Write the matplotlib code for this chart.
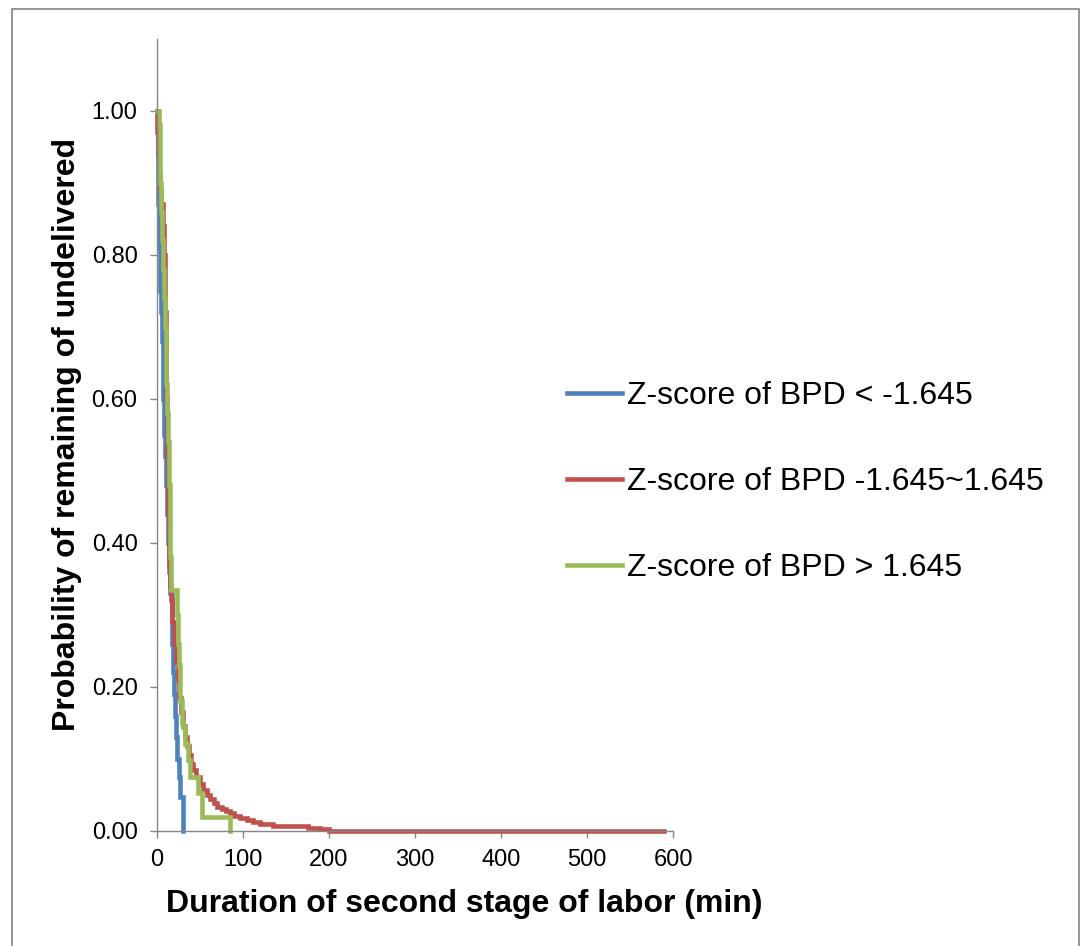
import matplotlib.pyplot as plt
from matplotlib.patches import Rectangle

plt.rcParams['font.family'] = ['Liberation Sans', 'DejaVu Sans']

# Kaplan-Meier step points (minutes, probability undelivered)
t_low = [0, 1, 1.5, 2, 2.7, 3.5, 4.5, 5.5, 6.5, 7.5, 8.5, 9.5, 10.5, 11.5, 12.5,
         14, 15, 17, 18, 19, 20, 21, 22, 23.5, 25, 27, 30.5]
s_low = [1.00, 0.92, 0.87, 0.84, 0.81, 0.75, 0.72, 0.68, 0.64, 0.60, 0.55, 0.52,
         0.48, 0.44, 0.40, 0.36, 0.33, 0.30, 0.26, 0.22, 0.19, 0.16, 0.13, 0.10,
         0.075, 0.047, 0.0]

t_mid = [0, 0.5, 1, 2, 3, 5, 7, 8, 9, 9.5, 10, 10.5, 11, 11.5, 12, 12.5, 13, 13.5,
         14, 15, 16, 18, 20, 22, 24, 26, 28, 30, 32, 34.5, 37, 40, 42, 45, 50, 54,
         58, 62, 66, 70, 75, 80, 85, 90, 97, 105, 112, 120, 135, 155, 175, 190,
         200, 590]
s_mid = [1.00, 0.97, 0.94, 0.91, 0.89, 0.87, 0.84, 0.80, 0.76, 0.72, 0.68, 0.64,
         0.60, 0.56, 0.52, 0.48, 0.44, 0.40, 0.37, 0.34, 0.32, 0.29, 0.26, 0.235,
         0.21, 0.185, 0.165, 0.145, 0.13, 0.117, 0.105, 0.092, 0.084, 0.075, 0.065,
         0.057, 0.050, 0.044, 0.038, 0.033, 0.030, 0.027, 0.024, 0.021, 0.018,
         0.015, 0.012, 0.009, 0.007, 0.006, 0.004, 0.002, 0.0, 0.0]

t_high = [0, 2, 3, 4, 5, 6, 7, 8, 9, 10, 11, 12, 13, 14, 15, 15.5, 16, 23, 24, 25,
          26.5, 27, 28.5, 30.6, 33, 36, 38, 48, 52, 85]
s_high = [1.00, 0.98, 0.95, 0.90, 0.86, 0.82, 0.78, 0.74, 0.70, 0.66, 0.62, 0.58,
          0.54, 0.48, 0.42, 0.38, 0.334, 0.30, 0.26, 0.23, 0.20, 0.18, 0.15, 0.144,
          0.12, 0.098, 0.075, 0.052, 0.019, 0.0]

labels = ['Z-score of BPD < -1.645', 'Z-score of BPD -1.645~1.645',
          'Z-score of BPD > 1.645']
colors = ['#4F81BD', '#C0504D', '#9BBB59']

fig = plt.figure(figsize=(10.83, 9.46), dpi=100)
ax = fig.add_axes([157 / 1083, 1 - 830.7 / 946, 516 / 1083, 792 / 946])

for t, s, lab, c in zip([t_low, t_mid, t_high], [s_low, s_mid, s_high], labels, colors):
    ax.plot(t, s, drawstyle='steps-post', color=c, lw=3.3, label=lab,
            solid_joinstyle='miter', clip_on=False)

ax.set_xlim(0, 600)
ax.set_ylim(0, 1.1)
ax.set_xticks(range(0, 601, 100))
ax.set_yticks([0, 0.2, 0.4, 0.6, 0.8, 1.0])
ax.set_yticklabels([f'{v:.2f}' for v in ax.get_yticks()])

grey = '#868686'
for side in ['top', 'right']:
    ax.spines[side].set_visible(False)
for side in ['left', 'bottom']:
    ax.spines[side].set_color(grey)
    ax.spines[side].set_linewidth(1.0)
ax.tick_params(direction='out', length=5, width=1.0, color=grey,
               labelsize=17, labelcolor='black')
ax.tick_params(axis='y', pad=9)
ax.tick_params(axis='x', pad=8)

ax.set_xlabel('Duration of second stage of labor (min)', fontsize=23, fontweight='bold')
ax.xaxis.label.set_va('baseline')
ax.xaxis.set_label_coords(0.595, -0.1027)
ax.set_ylabel('Probability of remaining of undelivered', fontsize=23, fontweight='bold')
ax.yaxis.label.set_va('center')
ax.yaxis.set_label_coords(-0.175, 0.5)

fig.legend(loc='center left', bbox_to_anchor=(567 / 1083, 1 - 482 / 946),
           frameon=False, fontsize=23, handlelength=1.72, handletextpad=0.16,
           labelspacing=1.75, borderpad=0, borderaxespad=0)

fig.patches.append(Rectangle((12 / 1083, -0.05), 1067 / 1083, 1.05 - 9.5 / 946,
                             transform=fig.transFigure, fill=False,
                             edgecolor='#8c8c8c', lw=1.3))

fig.savefig('out.png', dpi=100)
